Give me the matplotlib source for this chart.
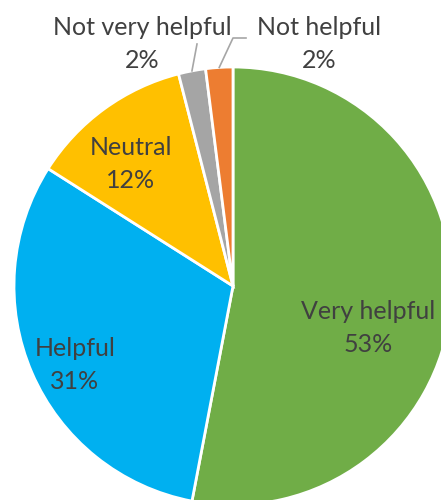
import numpy as np
import matplotlib.pyplot as plt

categories = ["Very helpful", "Helpful", "Neutral", "Not very helpful", "Not helpful"]
shares = [53, 31, 12, 2, 2]
colors = ["#70AD47", "#00B0F0", "#FFC000", "#A5A5A5", "#ED7D31"]

W, H = 441, 500
cx, cy, r = 233, H - 286, 219

fig = plt.figure(figsize=(W / 100, H / 100), dpi=100)
ax = fig.add_axes([0, 0, 1, 1])
wedges, _ = ax.pie(shares, colors=colors, startangle=90, counterclock=False,
                   center=(cx, cy), radius=r,
                   wedgeprops=dict(edgecolor="white", linewidth=2))
ax.set_xlim(0, W)
ax.set_ylim(0, H)
ax.set_aspect("equal")
ax.axis("off")

# label centres, pixels from top-left
label_pos = [(368, 328), (75, 365), (131, 164), (142, 44), (319, 44)]
for name, val, (x, y) in zip(categories, shares, label_pos):
    ax.text(x, H - y, f"{name}\n{val}%", ha="center", va="center",
            fontsize=18, color="#404040", linespacing=1.55, family="Lato")

# leader lines for the two small slices
leaders = {3: [(197, 44)], 4: [(233, 38), (246, 38)]}
for i, pts in leaders.items():
    w = wedges[i]
    th = np.deg2rad((w.theta1 + w.theta2) / 2)
    xs = [cx + r * np.cos(th)] + [p[0] for p in pts]
    ys = [cy + r * np.sin(th)] + [H - p[1] for p in pts]
    ax.plot(xs, ys, color="#A6A6A6", lw=1.2)

fig.savefig("out.png", dpi=100)
